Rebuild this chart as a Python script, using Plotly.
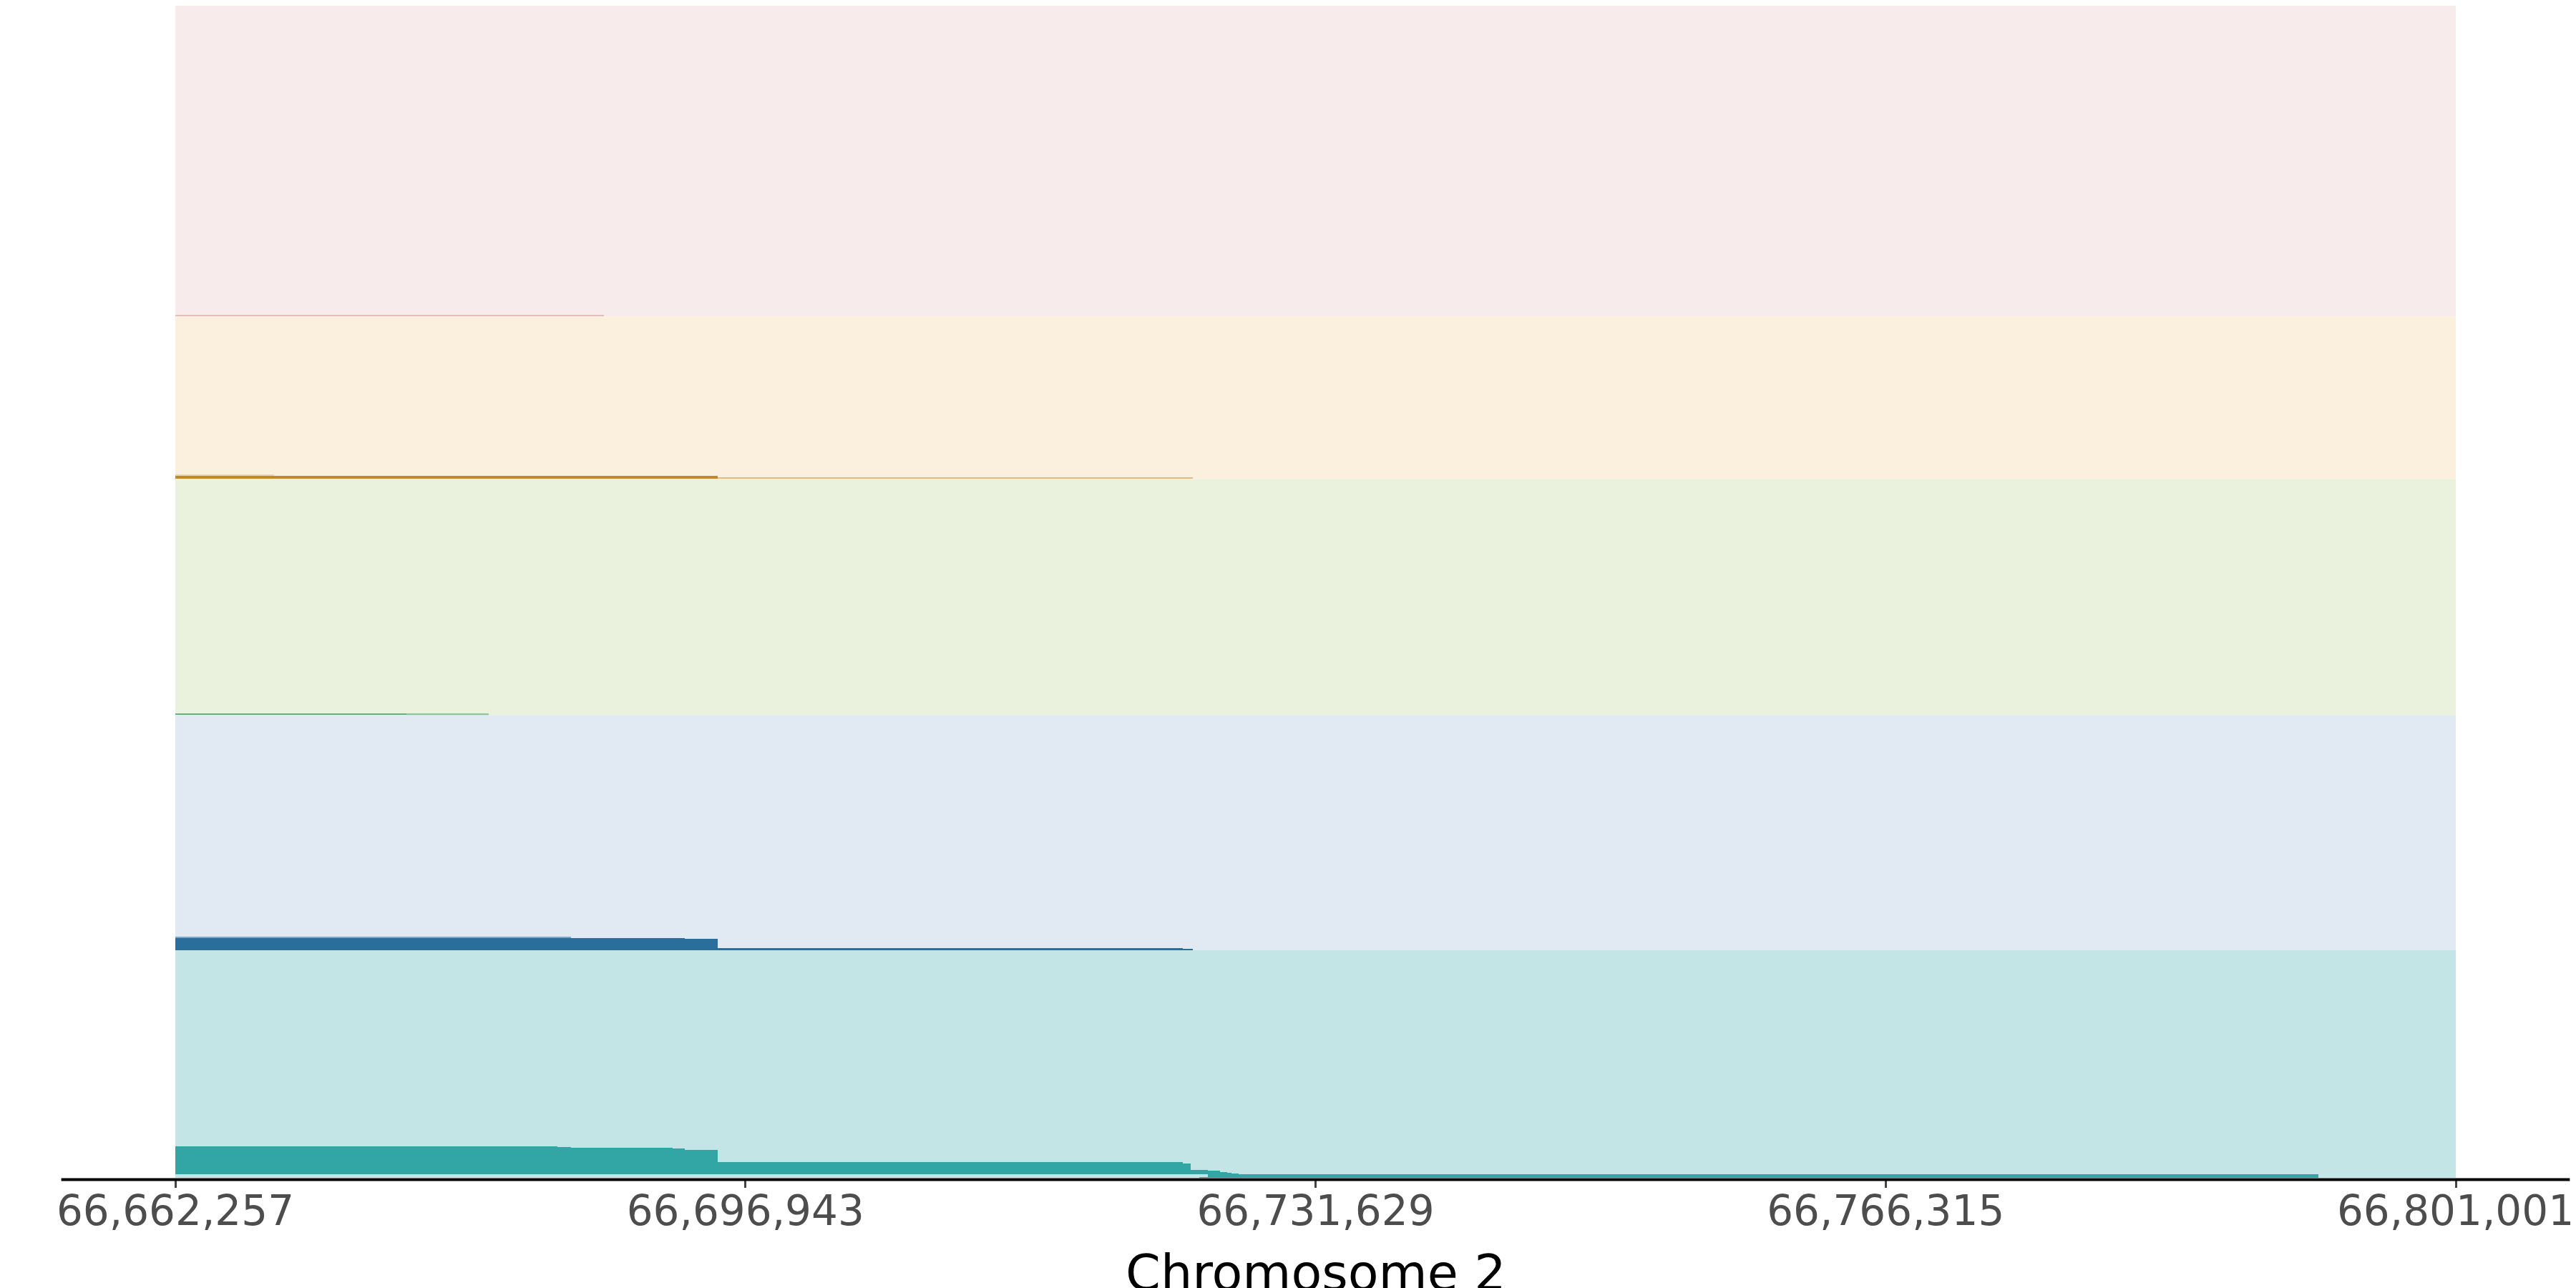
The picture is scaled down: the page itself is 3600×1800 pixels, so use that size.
import plotly.graph_objects as go
from plotly.subplots import make_subplots

# genomic window and tick positions
x_start = 66662257
x_end = 66801001
tick_positions = [66662257, 66696943, 66731629, 66766315, 66801001]

# track order top -> bottom, and each track's depth range (sets its height too)
track_names = ["pink", "peach", "green", "blue", "teal"]
track_ymax = [86.8, 45.4, 66.0, 65.7, 63.6]
track_bg = ["#f7ebeb", "#fbefdd", "#eaf2de", "#e1eaf2", "#c4e5e6"]

# read blocks per track: start, end, lower depth, upper depth, shade
pink_starts = [66662257]
pink_ends = [66688342]
pink_lo = [0.0]
pink_hi = [0.45]
pink_colors = ["#e3bdb8"]

peach_starts = [66662257, 66662257, 66695266]
peach_ends = [66668267, 66695266, 66724182]
peach_lo = [0.85, 0.1, 0.0]
peach_hi = [1.05, 0.85, 0.4]
peach_colors = ["#f0d2aa", "#c8852c", "#e6bb80"]

green_starts = [66662257, 66676323]
green_ends = [66676323, 66681331]
green_lo = [0.0, 0.0]
green_hi = [0.4, 0.35]
green_colors = ["#68b17a", "#8cc79b"]

blue_starts = [66662257, 66662257, 66693263, 66695266, 66723573]
blue_ends = [66686339, 66693263, 66695266, 66723573, 66724182]
blue_lo = [3.4, 0.0, 0.0, 0.0, 0.0]
blue_hi = [3.6, 3.4, 3.2, 0.5, 0.3]
blue_colors = ["#7fa6c2", "#2a6f9b", "#2a6f9b", "#2a6f9b", "#2a6f9b"]

teal_starts = [66662257, 66685512, 66686339, 66692523, 66693263, 66695266, 66723573,
               66724052, 66725097, 66725837, 66726273, 66726534, 66725097, 66724574]
teal_ends = [66685512, 66686339, 66692523, 66693263, 66695266, 66723573, 66724052,
             66725097, 66725837, 66726273, 66726534, 66726969, 66792640, 66725097]
teal_lo = [1.0, 1.0, 1.0, 1.0, 1.0, 1.0, 1.0, 1.0, 1.0, 1.0, 1.0, 1.0, 0.0, 0.0]
teal_hi = [8.8, 8.6, 8.5, 8.3, 7.8, 4.35, 4.0, 2.2, 2.0, 1.65, 1.35, 1.15, 1.0, 0.25]
teal_colors = ["#31a6a4"] * 14

tracks = [
    (pink_starts, pink_ends, pink_lo, pink_hi, pink_colors),
    (peach_starts, peach_ends, peach_lo, peach_hi, peach_colors),
    (green_starts, green_ends, green_lo, green_hi, green_colors),
    (blue_starts, blue_ends, blue_lo, blue_hi, blue_colors),
    (teal_starts, teal_ends, teal_lo, teal_hi, teal_colors),
]

FONT = "DejaVu Sans"

fig = make_subplots(
    rows=len(tracks),
    cols=1,
    shared_xaxes=True,
    vertical_spacing=0,
    row_heights=track_ymax,
)

for i, (starts, ends, lo, hi, colors) in enumerate(tracks):
    row = i + 1
    fig.add_trace(
        go.Bar(
            orientation="h",
            base=starts,
            x=[e - s for s, e in zip(starts, ends)],
            y=[(a + b) / 2 for a, b in zip(lo, hi)],
            width=[b - a for a, b in zip(lo, hi)],
            marker={"color": colors, "line": {"width": 0}},
            name=track_names[i],
            showlegend=False,
            hoverinfo="skip",
        ),
        row=row,
        col=1,
    )
    suffix = "" if row == 1 else str(row)
    fig.add_shape(
        type="rect",
        xref=f"x{suffix} domain",
        yref=f"y{suffix} domain",
        x0=0,
        x1=1,
        y0=0,
        y1=1,
        fillcolor=track_bg[i],
        line={"width": 0},
        layer="below",
    )
    fig.update_yaxes(range=[0, track_ymax[i]], visible=False, row=row, col=1)
    fig.update_xaxes(range=[x_start, x_end], showgrid=False, zeroline=False, row=row, col=1)

for row in range(1, len(tracks)):
    fig.update_xaxes(showticklabels=False, ticks="", row=row, col=1)

fig.update_xaxes(
    tickvals=tick_positions,
    tickformat=",d",
    ticks="outside",
    ticklen=13,
    tickwidth=3,
    tickcolor="#444444",
    ticklabelstandoff=-18,
    tickfont={"family": FONT, "size": 58, "color": "#4d4d4d"},
    automargin=False,
    row=len(tracks),
    col=1,
)

# axis title
fig.add_annotation(
    text="Chromosome 2",
    xref="paper",
    yref="paper",
    x=0.5,
    y=0,
    yanchor="top",
    yshift=-90,
    showarrow=False,
    font={"family": FONT, "size": 70, "color": "#000000"},
)

# baseline that runs past both ends of the plot area
fig.add_shape(
    type="line",
    xref="paper",
    yref="paper",
    x0=-0.05,
    x1=1.05,
    y0=-0.0015,
    y1=-0.0015,
    line={"color": "#000000", "width": 4},
)

fig.update_layout(
    width=3600,
    height=1800,
    margin={"l": 237, "r": 176, "t": 0, "b": 162},
    barmode="overlay",
    bargap=0,
    plot_bgcolor="#ffffff",
    paper_bgcolor="#ffffff",
    font={"family": FONT},
)

fig.write_html("out.html")
